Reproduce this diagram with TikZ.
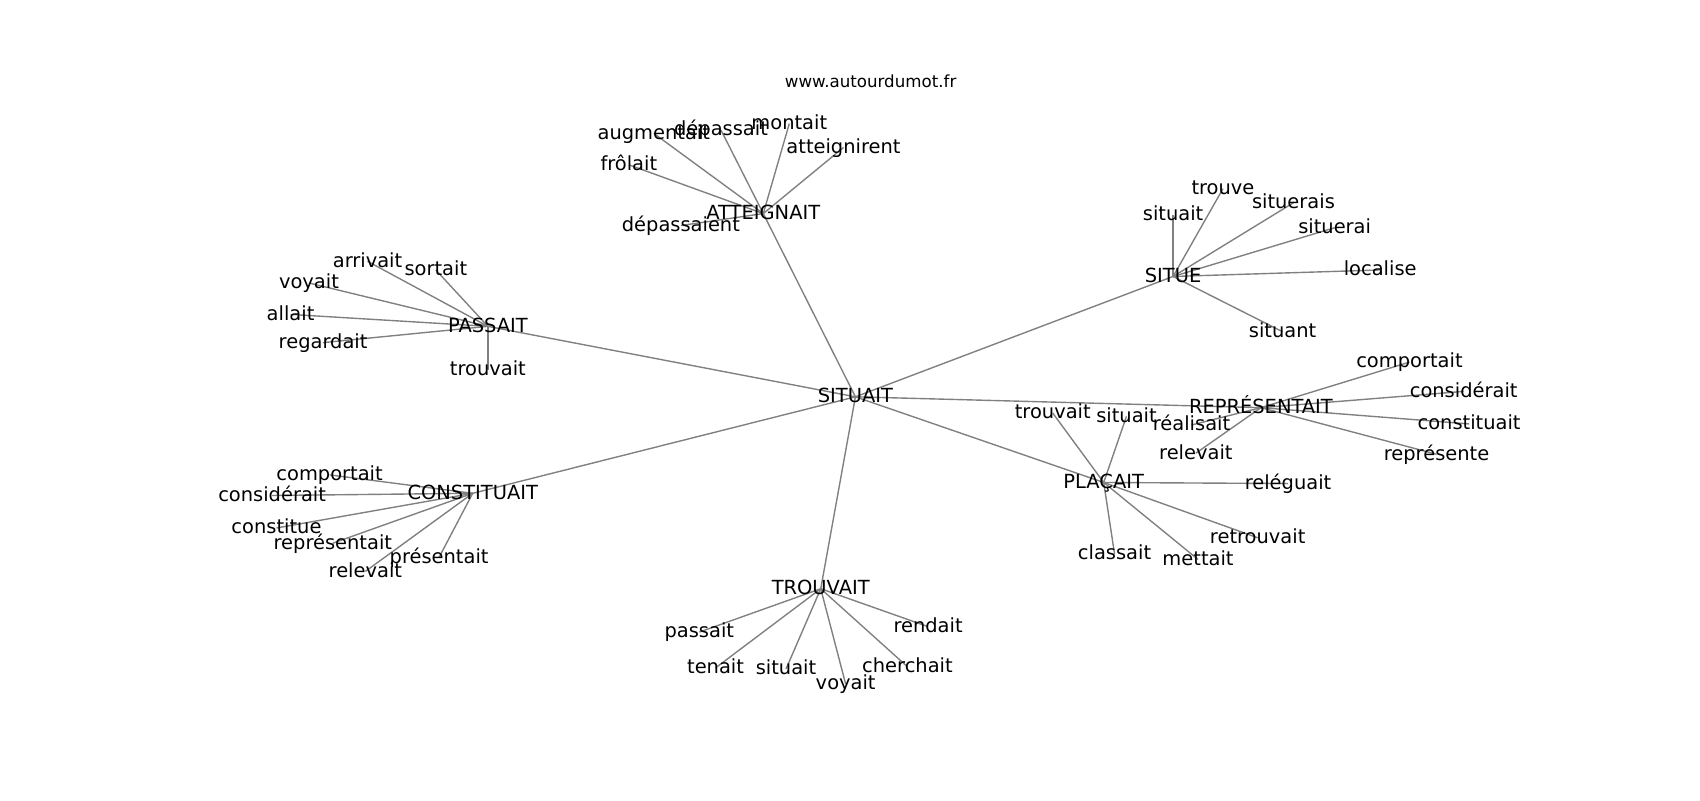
\documentclass[tikz,border=0pt]{standalone}
\usepackage{fontspec}
\setmainfont{DejaVu Sans}
\usetikzlibrary{backgrounds}
\begin{document}
\begin{tikzpicture}[x=0.78061pt,y=-0.78061pt,
  lbl/.style={inner sep=0pt, text height=0.9em, text depth=0.06em, font=\fontsize{14}{16}\selectfont, anchor=center},
  ttl/.style={inner sep=0pt, text height=0.84em, text depth=0.06em, font=\fontsize{12}{14}\selectfont, anchor=center},
  edge/.style={draw=gray, line width=1pt}]
\useasboundingbox (0,0) rectangle (1568,738);
\node[ttl] (title) at (803,76) {www.autourdumot.fr};
\node[lbl] (s) at (789,366) {SITUAIT};
% ATTEIGNAIT
\node[lbl] (a) at (704,197) {ATTEIGNAIT};
\node[lbl] (a1) at (603,123) {augmentait};
\node[lbl] (a2) at (665,120) {dépassait};
\node[lbl] (a3) at (728,114) {montait};
\node[lbl] (a4) at (778,136) {atteignirent};
\node[lbl] (a5) at (580,152) {frôlait};
\node[lbl] (a6) at (628,208) {dépassaient};
% PASSAIT
\node[lbl] (p) at (450,301) {PASSAIT};
\node[lbl] (p1) at (339,241) {arrivait};
\node[lbl] (p2) at (402,249) {sortait};
\node[lbl] (p3) at (285,261) {voyait};
\node[lbl] (p4) at (268,290) {allait};
\node[lbl] (p5) at (298,316) {regardait};
\node[lbl] (p6) at (450,341) {trouvait};
% CONSTITUAIT
\node[lbl] (c) at (436,455) {CONSTITUAIT};
\node[lbl] (c1) at (304,438) {comportait};
\node[lbl] (c2) at (251,457) {considérait};
\node[lbl] (c3) at (255,487) {constitue};
\node[lbl] (c4) at (307,501) {représentait};
\node[lbl] (c5) at (337,527) {relevait};
\node[lbl] (c6) at (405,514) {présentait};
% SITUE
\node[lbl] (u) at (1082,255) {SITUE};
\node[lbl] (u1) at (1082,198) {situait};
\node[lbl] (u2) at (1128,174) {trouve};
\node[lbl] (u3) at (1193,187) {situerais};
\node[lbl] (u4) at (1231,210) {situerai};
\node[lbl] (u5) at (1273,249) {localise};
\node[lbl] (u6) at (1183,306) {situant};
% REPRESENTAIT
\node[lbl] (r) at (1163,376) {REPRÉSENTAIT};
\node[lbl] (r1) at (1300,334) {comportait};
\node[lbl] (r2) at (1350,361) {considérait};
\node[lbl] (r3) at (1355,391) {constituait};
\node[lbl] (r4) at (1325,419) {représente};
\node[lbl] (r5) at (1099,392) {réalisait};
\node[lbl] (r6) at (1103,418) {relevait};
% PLACAIT
\node[lbl] (l) at (1018,445) {PLAÇAIT};
\node[lbl] (l1) at (971,381) {trouvait};
\node[lbl] (l2) at (1039,384) {situait};
\node[lbl] (l3) at (1188,446) {reléguait};
\node[lbl] (l4) at (1160,496) {retrouvait};
\node[lbl] (l5) at (1105,516) {mettait};
\node[lbl] (l6) at (1028,511) {classait};
% TROUVAIT
\node[lbl] (t) at (757,543) {TROUVAIT};
\node[lbl] (t1) at (645,583) {passait};
\node[lbl] (t2) at (660,616) {tenait};
\node[lbl] (t3) at (725,617) {situait};
\node[lbl] (t4) at (780,631) {voyait};
\node[lbl] (t5) at (837,615) {cherchait};
\node[lbl] (t6) at (856,578) {rendait};
\begin{scope}[on background layer]
\foreach \h in {a,p,c,u,r,l,t} \draw[edge] (s.center) -- (\h.center);
\foreach \h in {a,p,c,u,r,l,t}
  \foreach \i in {1,...,6} \draw[edge] (\h.center) -- (\h\i.center);
\end{scope}
\end{tikzpicture}
\end{document}
